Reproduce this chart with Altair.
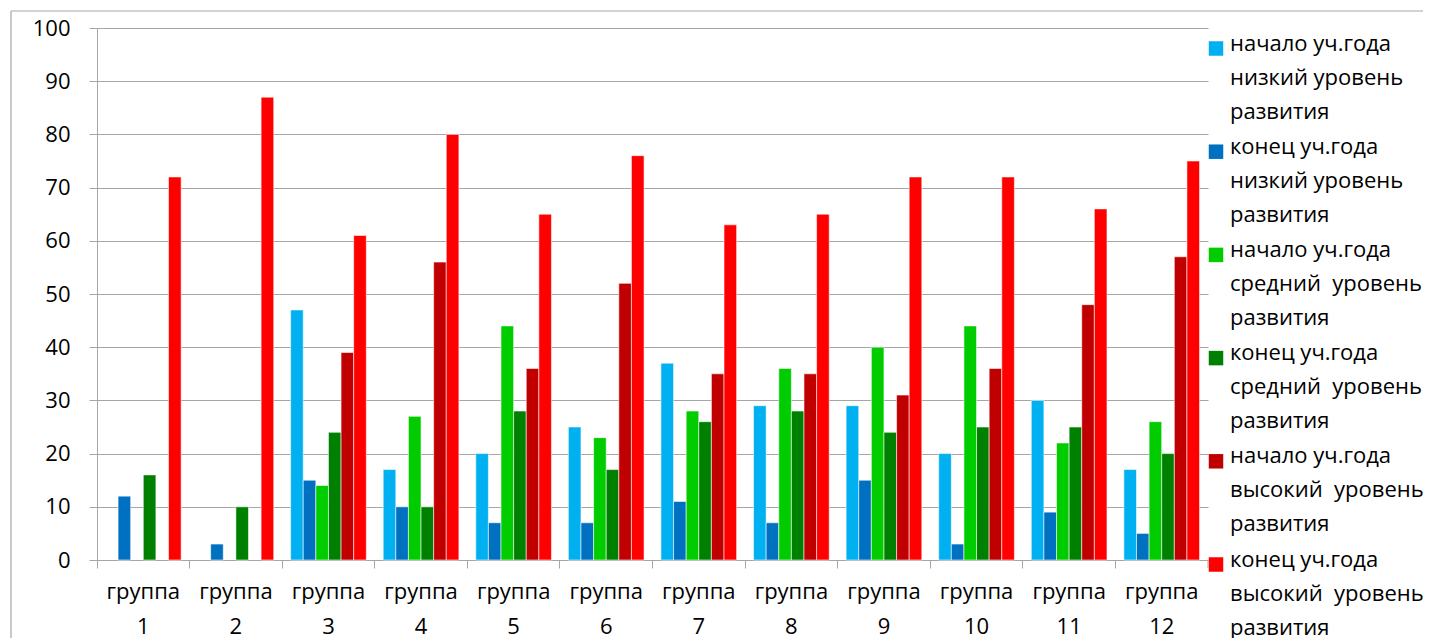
import altair as alt
import pandas as pd

groups = [f"группа {i}" for i in range(1, 13)]
series = [
    "начало уч.года\nнизкий уровень\nразвития",
    "конец уч.года\nнизкий уровень\nразвития",
    "начало уч.года\nсредний\u00a0 уровень\nразвития",
    "конец уч.года\nсредний\u00a0 уровень\nразвития",
    "начало уч.года\nвысокий\u00a0 уровень\nразвития",
    "конец уч.года\nвысокий\u00a0 уровень\nразвития",
]
colors = ["#00B0F0", "#0070C0", "#00CC00", "#008000", "#C00000", "#FF0000"]

low_start = [0, 0, 47, 17, 20, 25, 37, 29, 29, 20, 30, 17]
low_end = [12, 3, 15, 10, 7, 7, 11, 7, 15, 3, 9, 5]
mid_start = [0, 0, 14, 27, 44, 23, 28, 36, 40, 44, 22, 26]
mid_end = [16, 10, 24, 10, 28, 17, 26, 28, 24, 25, 25, 20]
high_start = [0, 0, 39, 56, 36, 52, 35, 35, 31, 36, 48, 57]
high_end = [72, 87, 61, 80, 65, 76, 63, 65, 72, 72, 66, 75]

all_vals = [low_start, low_end, mid_start, mid_end, high_start, high_end]
rows = []
for s, vals in zip(series, all_vals):
    for g, v in zip(groups, vals):
        rows.append({"group": g, "series": s, "value": v})
df = pd.DataFrame(rows)
leg_df = pd.DataFrame({"series": series})

FONT = "Open Sans"
GRID = "#A6A6A6"
color_scale = alt.Scale(domain=series, range=colors)

bars = alt.Chart(df).transform_filter("datum.value > 0").mark_bar(
    stroke="#ffffff", strokeWidth=0.8, strokeOpacity=0.7
).encode(
    x=alt.X("group:N", sort=groups, title=None,
            scale=alt.Scale(paddingInner=0, paddingOuter=0),
            axis=alt.Axis(labelExpr="split(datum.label, ' ')", labelAngle=0,
                          labelLineHeight=35, labelFontSize=22, labelFont=FONT,
                          labelColor="#000000", labelPadding=13, tickSize=8,
                          tickColor=GRID, domainColor=GRID, bandPosition=0,
                          labelBaseline="top", grid=False)),
    xOffset=alt.XOffset("series:N", sort=series,
                        scale=alt.Scale(paddingInner=0, paddingOuter=0.67)),
    y=alt.Y("value:Q", title=None,
            scale=alt.Scale(domain=[0, 100], nice=False),
            axis=alt.Axis(values=list(range(0, 101, 10)), labelFontSize=22,
                          labelFont=FONT, labelColor="#000000", tickSize=8,
                          labelPadding=19, tickColor=GRID, domainColor=GRID,
                          gridColor=GRID, minExtent=83, maxExtent=83)),
    color=alt.Color("series:N", sort=series, scale=color_scale, legend=None),
)

leg_scale = alt.Scale(type="point", domain=series, range=[20.5, 536.5], padding=0)
leg_sq = alt.Chart(leg_df).mark_square(size=210, opacity=1).encode(
    x=alt.value(1119),
    y=alt.Y("series:N", sort=series, axis=None, scale=leg_scale),
    color=alt.Color("series:N", sort=series, scale=color_scale, legend=None),
)
leg_tx = alt.Chart(leg_df).mark_text(
    align="left", baseline="top", lineBreak="\n", lineHeight=34,
    fontSize=22, font=FONT, color="#000000", dy=-15
).encode(
    x=alt.value(1133),
    y=alt.Y("series:N", sort=series, axis=None, scale=leg_scale),
    text="series:N",
)

# chart frame and closing x-axis tick (decoration)
frame_top = alt.Chart(leg_df.head(1)).mark_rule(color=GRID, strokeWidth=1.2).encode(
    x=alt.value(-86), x2=alt.value(1326), y=alt.value(-17)
)
frame_left = alt.Chart(leg_df.head(1)).mark_rule(color=GRID, strokeWidth=1.2).encode(
    x=alt.value(-86), y=alt.value(-17), y2=alt.value(612)
)
end_tick = alt.Chart(leg_df.head(1)).mark_rule(color=GRID).encode(
    x=alt.value(1111), y=alt.value(532), y2=alt.value(540)
)

chart = alt.layer(bars, leg_sq, leg_tx, frame_top, frame_left, end_tick).resolve_scale(
    y="independent"
).properties(
    width=1111, height=532,
    padding={"top": 2, "left": 2, "right": 0, "bottom": 0}
).configure_view(strokeWidth=0, stroke="transparent")

chart.save("out.html", embed_options={"renderer": "svg", "actions": False})
